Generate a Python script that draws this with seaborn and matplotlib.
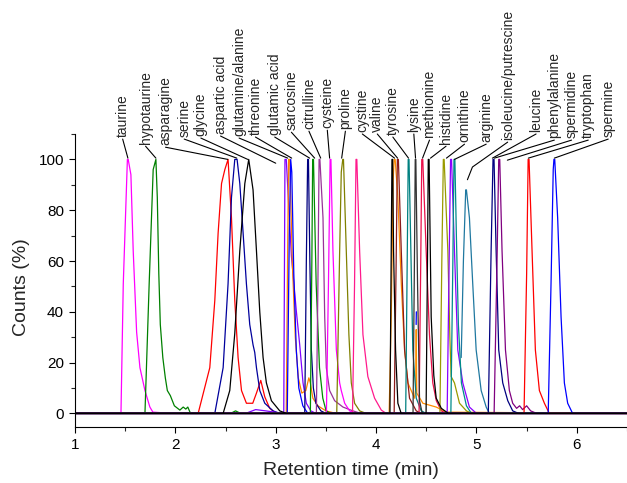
import matplotlib
matplotlib.use("Agg")
import matplotlib.pyplot as plt
import pandas as pd
import seaborn as sns

# compound labels written above the peaks, in elution order
compounds = ["taurine", "hypotaurine", "asparagine", "serine", "glycine",
             "aspartic acid", "glutamine/alanine", "threonine", "glutamic acid",
             "sarcosine", "citrulline", "cysteine", "proline", "cystine",
             "valine", "tyrosine", "lysine", "methionine", "histidine",
             "ornithine", "arginine", "isoleucine/putrescine", "leucine",
             "phenylalanine", "spermidine", "tryptophan", "spermine"]
# retention time (min) where each leader line meets its peak
lead_rt = [1.527, 1.806, 2.522, 2.612, 2.721, 3.000, 3.119, 3.159, 3.338,
           3.388, 3.448, 3.537, 3.657, 4.184, 4.214, 4.323, 4.393, 4.463,
           4.542, 4.701, 4.781, 4.910, 5.159, 5.179, 5.308, 5.517, 5.776]
# counts (%) at the end of each leader line
lead_top = [100.5, 100.5, 100.0, 100.5, 100.0, 98.5, 100.5, 100.5, 100.5,
            100.5, 100.5, 100.5, 100.5, 100.5, 100.5, 100.5, 100.5, 100.5,
            100.5, 100.5, 100.0, 92.0, 100.5, 100.5, 99.7, 100.5, 100.5]

# chromatogram traces: time (min), counts (%)
taurine_t = [1.0, 1.458, 1.481, 1.522, 1.530, 1.557, 1.580, 1.614, 1.647, 1.697, 1.746, 1.776, 1.85, 6.5]
taurine_c = [0, 0, 51, 100, 100, 94, 64, 32, 18, 9, 2.5, 0.5, 0.3, 0]
hypotaurine_t = [1.0, 1.697, 1.739, 1.779, 1.806, 1.820, 1.835, 1.850, 1.875, 1.900, 1.920, 1.950, 1.990, 2.045, 2.078, 2.104, 2.124, 2.151, 6.5]
hypotaurine_c = [0, 0, 51, 96, 100, 85, 55, 35, 22, 14, 9, 7, 3, 1.3, 2.5, 1.7, 2.5, 0, 0]
asparagine_t = [1.0, 2.227, 2.343, 2.393, 2.426, 2.460, 2.493, 2.525, 2.559, 2.592, 2.625, 2.659, 2.708, 2.771, 2.808, 2.851, 2.891, 2.940, 3.007, 6.5]
asparagine_c = [0, 0, 18, 44.5, 71, 90.5, 96, 100, 77, 44.5, 22, 9, 4, 4, 8, 13, 6.5, 2, 0, 0]
serine_t = [1.0, 2.393, 2.476, 2.525, 2.559, 2.592, 2.615, 2.642, 2.675, 2.708, 2.741, 2.774, 2.791, 2.808, 2.841, 2.891, 2.973, 3.040, 6.5]
serine_c = [0, 0, 18, 51, 85, 100, 100, 90.5, 71, 51, 35, 27, 24, 18, 9, 4, 1, 0, 0]
glycine_t = [1.0, 2.476, 2.542, 2.592, 2.642, 2.692, 2.731, 2.774, 2.808, 2.841, 2.874, 2.907, 2.957, 3.040, 3.106, 6.5]
glycine_c = [0, 0, 9, 31.5, 64, 90.5, 100, 88, 64, 40, 22, 12, 5, 1, 0, 0]
aspartic_t = [1.0, 2.70, 2.80, 2.90, 3.080, 3.092, 3.105, 3.156, 3.206, 3.239, 3.272, 3.305, 3.35, 3.40, 6.5]
aspartic_c = [0, 0, 1.5, 1.0, 0, 100, 100, 62, 40, 27, 12, 4, 1, 0, 0]
glu_ala_t = [1.0, 3.105, 3.118, 3.128, 3.140, 3.165, 3.195, 3.225, 3.260, 3.300, 3.330, 3.345, 3.370, 3.420, 3.500, 3.600, 6.5]
glu_ala_c = [0, 0, 60, 100, 100, 60, 30, 14, 8, 9, 14, 12, 6, 3, 1, 0, 0]
threonine_t = [1.0, 3.115, 3.135, 3.149, 3.160, 3.180, 3.205, 3.230, 3.270, 3.320, 6.5]
threonine_c = [0, 0, 70, 100, 95, 55, 25, 10, 3, 0, 0]
glutamic_t = [1.0, 3.289, 3.305, 3.318, 3.326, 3.340, 3.355, 3.375, 3.400, 3.450, 3.500, 6.5]
glutamic_c = [0, 0, 60, 100, 100, 60, 25, 10, 4, 1, 0, 0]
sarcosine_t = [1.0, 2.55, 2.60, 2.65, 3.345, 3.360, 3.368, 3.376, 3.403, 3.436, 3.469, 3.502, 3.550, 6.5]
sarcosine_c = [0, 0, 1.0, 0, 0, 60, 100, 100, 51, 18, 6, 1, 0, 0]
citrulline_t = [1.0, 3.405, 3.420, 3.432, 3.440, 3.471, 3.488, 3.504, 3.537, 3.587, 3.670, 3.769, 3.850, 6.5]
citrulline_c = [0, 0, 50, 100, 100, 77, 38, 18, 9, 5, 2.5, 1, 0, 0]
cysteine_t = [1.0, 3.505, 3.525, 3.542, 3.550, 3.570, 3.604, 3.637, 3.653, 3.687, 3.736, 3.800, 6.5]
cysteine_c = [0, 0, 50, 100, 100, 64, 25, 12, 9, 4, 1, 0, 0]
proline_t = [1.0, 3.608, 3.637, 3.653, 3.668, 3.675, 3.703, 3.729, 3.753, 3.786, 3.836, 3.900, 6.5]
proline_c = [0, 0, 64, 95, 100, 100, 64, 31, 12, 4, 1, 0, 0]
pink380_t = [1.0, 3.765, 3.785, 3.800, 3.808, 3.836, 3.869, 3.918, 3.985, 4.052, 4.101, 6.5]
pink380_c = [0, 0, 50, 100, 100, 64, 31, 14.5, 6, 1.3, 0, 0]
black416_t = [1.0, 4.138, 4.150, 4.158, 4.165, 4.174, 4.194, 4.217, 4.250, 6.5]
black416_c = [0, 0, 60, 100, 100, 64, 25, 4, 0, 0]
cystine_t = [1.0, 4.130, 4.151, 4.170, 4.180, 4.190, 4.217, 4.251, 4.284, 4.317, 4.383, 4.395, 4.400, 4.405, 4.466, 4.599, 4.700, 6.5]
cystine_c = [0, 0, 38, 92, 100, 100, 85, 51, 25, 12, 6, 10, 33, 8, 4, 2.5, 0.5, 0]
valine_t = [1.0, 4.180, 4.200, 4.212, 4.222, 4.251, 4.284, 4.333, 4.400, 4.450, 6.5]
valine_c = [0, 0, 60, 100, 100, 64, 25, 6, 1, 0, 0]
tyrosine_t = [1.0, 4.295, 4.310, 4.320, 4.328, 4.340, 4.366, 4.400, 4.450, 4.500, 6.5]
tyrosine_c = [0, 0, 60, 100, 100, 77, 25, 6, 1, 0, 0]
lysine_t = [1.0, 4.368, 4.382, 4.390, 4.396, 4.413, 4.433, 4.460, 6.5]
lysine_c = [0, 0, 60, 100, 100, 51, 5, 0, 0]
methionine_t = [1.0, 4.428, 4.445, 4.455, 4.465, 4.499, 4.532, 4.565, 4.600, 4.650, 4.700, 6.5]
methionine_c = [0, 0, 60, 100, 100, 64, 31, 12, 5, 1, 0, 0]
histidine_t = [1.0, 4.498, 4.512, 4.520, 4.528, 4.549, 4.575, 4.599, 4.650, 4.720, 6.5]
histidine_c = [0, 0, 60, 100, 100, 38, 15, 6, 2, 0, 0]
ornithine_t = [1.0, 4.636, 4.655, 4.670, 4.678, 4.715, 4.735, 4.748, 4.781, 4.831, 4.900, 4.950, 6.5]
ornithine_c = [0, 0, 60, 100, 100, 64, 30, 14.5, 12, 4, 1, 0, 0]
violet474_t = [1.0, 4.708, 4.728, 4.742, 4.752, 4.781, 4.814, 4.864, 4.930, 5.000, 6.5]
violet474_c = [0, 0, 60, 100, 100, 64, 25, 12, 2.5, 0, 0]
arginine_t = [1.0, 4.745, 4.765, 4.776, 4.785, 4.800, 4.820, 4.850, 4.900, 4.950, 6.5]
arginine_c = [0, 0, 60, 100, 100, 70, 35, 12, 3, 0, 0]
ileput_base_t = [1.0, 4.840]
ileput_base_c = [0, 0]
ileput_t = [4.848, 4.870, 4.893, 4.900, 4.930, 4.963, 4.997, 5.047, 5.097, 5.129, 6.5]
ileput_c = [22, 60, 88, 88, 77, 51, 25, 9, 2.5, 0, 0]
blue_spike_t = [4.399, 4.401]
blue_spike_c = [35, 40]
leucine_t = [1.0, 5.118, 5.146, 5.165, 5.175, 5.196, 5.222, 5.262, 5.312, 5.361, 5.420, 6.5]
leucine_c = [0, 0, 64, 100, 100, 64, 25, 12, 5, 1, 0, 0]
phenylalanine_t = [1.0, 5.176, 5.205, 5.222, 5.232, 5.255, 5.289, 5.328, 5.361, 5.400, 5.430, 5.460, 5.500, 5.540, 5.600, 6.5]
phenylalanine_c = [0, 0, 60, 100, 100, 64, 25, 9, 4, 2, 3, 1.5, 3, 1, 0, 0]
tryptophan_t = [1.0, 5.474, 5.500, 5.515, 5.524, 5.554, 5.587, 5.627, 5.677, 5.726, 6.5]
tryptophan_c = [0, 0, 55, 100, 100, 64, 25, 9, 4, 0, 0]
spermine_t = [1.0, 5.715, 5.743, 5.765, 5.772, 5.780, 5.809, 5.843, 5.876, 5.909, 5.958, 6.5]
spermine_c = [0, 0, 51, 96, 100, 100, 77, 38, 12, 4, 0, 0]

traces = [
    ("taurine", "#ff00ff", taurine_t, taurine_c),
    ("hypotaurine", "#008000", hypotaurine_t, hypotaurine_c),
    ("asparagine", "#ff0000", asparagine_t, asparagine_c),
    ("serine", "#00009c", serine_t, serine_c),
    ("aspartic", "#8000ff", aspartic_t, aspartic_c),
    ("glu_ala", "#ff8000", glu_ala_t, glu_ala_c),
    ("threonine", "#0000ff", threonine_t, threonine_c),
    ("glutamic", "#000080", glutamic_t, glutamic_c),
    ("sarcosine", "#008c00", sarcosine_t, sarcosine_c),
    ("citrulline", "#993399", citrulline_t, citrulline_c),
    ("cysteine", "#ff00ff", cysteine_t, cysteine_c),
    ("proline", "#808000", proline_t, proline_c),
    ("pink380", "#ff1a8c", pink380_t, pink380_c),
    ("cystine", "#ff8c00", cystine_t, cystine_c),
    ("valine", "#8b1a1a", valine_t, valine_c),
    ("tyrosine", "#008080", tyrosine_t, tyrosine_c),
    ("methionine", "#e8104a", methionine_t, methionine_c),
    ("ornithine", "#9a9a00", ornithine_t, ornithine_c),
    ("violet474", "#8a00ff", violet474_t, violet474_c),
    ("arginine", "#008b8b", arginine_t, arginine_c),
    ("ileput_base", "#1f78a0", ileput_base_t, ileput_base_c),
    ("ileput", "#1f78a0", ileput_t, ileput_c),
    ("blue_spike", "#0000ff", blue_spike_t, blue_spike_c),
    ("leucine", "#000080", leucine_t, leucine_c),
    ("phenylalanine", "#800080", phenylalanine_t, phenylalanine_c),
    ("tryptophan", "#ff0000", tryptophan_t, tryptophan_c),
    ("spermine", "#0000ff", spermine_t, spermine_c),
    ("lysine", "#333333", lysine_t, lysine_c),
    ("black416", "#000000", black416_t, black416_c),
    ("histidine", "#000000", histidine_t, histidine_c),
    ("glycine", "#000000", glycine_t, glycine_c),
]

# where the rotated labels sit (x in min, bottom of the text in %)
label_x = [1.475, 1.703, 1.902, 2.088, 2.254, 2.450, 2.635, 2.798, 2.990,
           3.156, 3.331, 3.514, 3.694, 3.863, 4.012, 4.167, 4.376, 4.532,
           4.697, 4.881, 5.097, 5.311, 5.594, 5.776, 5.948, 6.114, 6.313]
label_y = [108.8, 106.0, 105.6, 108.8, 109.2, 110.0, 109.2, 109.6, 109.6,
           111.5, 111.9, 112.3, 111.9, 110.8, 110.8, 109.6, 110.8, 108.4,
           106.0, 106.8, 106.8, 107.6, 110.8, 108.4, 108.4, 108.4, 108.8]

frames = []
palette = {}
for i, (name, color, t, c) in enumerate(traces):
    key = f"{i:02d}_{name}"
    frames.append(pd.DataFrame({"time": t, "counts": c, "trace": key}))
    palette[key] = color
df = pd.concat(frames, ignore_index=True)

sns.set_style("ticks")
plt.rcParams["font.family"] = ["Liberation Sans", "DejaVu Sans"]

fig = plt.figure(figsize=(6.27, 4.83), dpi=100)
ax = fig.add_axes([75 / 627, 1 - 427 / 483, 552 / 627, 293 / 483])

sns.lineplot(data=df, x="time", y="counts", hue="trace", palette=palette,
             estimator=None, sort=False, legend=False, linewidth=0.9, ax=ax)

ax.set_xlim(1, 6.5)
ax.set_ylim(-5.35, 110)
ax.set_xticks([1, 2, 3, 4, 5, 6])
ax.set_xticks([1.5, 2.5, 3.5, 4.5, 5.5, 6.5], minor=True)
ax.set_yticks([0, 20, 40, 60, 80, 100])
ax.set_yticks([10, 30, 50, 70, 90, 110], minor=True)
ax.tick_params(which="major", direction="out", length=4.5, width=0.8, labelsize=11, colors="black")
ax.tick_params(which="minor", direction="out", length=2.8, width=0.8)
sns.despine(ax=ax)
for sp in ["left", "bottom"]:
    ax.spines[sp].set_linewidth(0.8)
    ax.spines[sp].set_color("black")

ax.set_xlabel("Retention time (min)", fontsize=14)
ax.set_ylabel("Counts (%)", fontsize=14)
ax.xaxis.set_label_coords(0.5, -0.118)
ax.yaxis.set_label_coords(-0.082, 0.479)

# labels with leader lines down to the peaks
for i, name in enumerate(compounds):
    ax.text(label_x[i], label_y[i], name, rotation=90, ha="center", va="bottom",
            fontsize=10, clip_on=False)
    xs = [label_x[i], lead_rt[i]]
    ys = [label_y[i] - 0.8, lead_top[i]]
    if name == "isoleucine/putrescine":
        xs = [label_x[i], 4.96, lead_rt[i]]
        ys = [label_y[i] - 0.8, 97.0, lead_top[i]]
    ax.plot(xs, ys, color="black", linewidth=0.8, clip_on=False)

fig.savefig("out.png", dpi=100)
